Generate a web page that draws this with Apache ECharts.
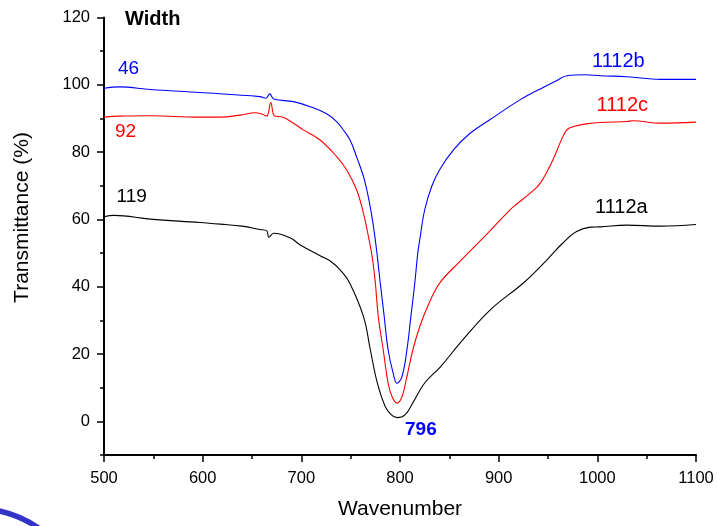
<!DOCTYPE html>
<html><head><meta charset="utf-8">
<script src="https://cdn.jsdelivr.net/npm/echarts@6/dist/echarts.min.js"></script>
<style>html,body{margin:0;padding:0;background:#fff}#c{width:717px;height:526px}</style>
</head><body><div id="c"></div>
<script>
// Tick labels
const xTickLabels = [500, 600, 700, 800, 900, 1000, 1100];
const yTickLabels = [0, 20, 40, 60, 80, 100, 120];

// Series 1112a (black)
const waveA = [500,510,547,597,618,640,658,665,667,672,689,699,719,729,740,749,763,770,777,785,791,797,805,813,825,841,861,891,925,949,965,979,993,1003,1030,1064,1100];
const transA = [60.8,61.2,60.1,59.1,58.6,58.0,57.0,56.6,54.7,55.9,54.5,52.4,49.2,47.7,44.8,41.1,31.1,21.2,11.4,4.4,2.0,1.1,1.9,5.5,11.4,16.2,23.3,33.0,41.1,48.0,53.0,56.4,57.7,57.8,58.3,58.0,58.5];

// Series 1112b (blue)
const waveB = [500,516,547,597,658,664,668,672,692,709,726,736,742,749,756,764,771,776,780,784,788,793,797,802,807,811,815,818,820,825,832,840,854,871,891,922,947,959,969,988,1003,1030,1064,1100];
const transB = [99.0,99.4,98.6,97.7,96.5,96.0,97.3,95.8,95.0,93.5,91.3,89.0,86.8,83.8,78.6,71.7,61.8,51.5,41.1,31.1,21.2,14.4,11.3,13.3,21.2,31.1,41.1,50.0,53.9,62.8,69.7,74.7,80.6,85.6,89.6,95.6,99.5,101.3,102.7,103.0,102.7,102.4,101.6,101.6];

// Series 1112c (red)
const waveC = [500,516,547,597,618,638,653,661,665,669,673,680,692,702,719,736,746,756,763,768,772,775,778,783,788,792,797,802,807,813,820,828,840,861,888,908,915,932,942,955,962,969,976,989,1003,1030,1036,1064,1100];
const transC = [90.4,90.7,90.8,90.4,90.4,91.0,91.7,91.2,90.7,94.7,90.7,90.5,88.6,86.6,83.6,78.6,74.7,68.8,61.8,54.9,48.5,41.1,31.1,21.2,11.3,7.3,5.4,7.3,13.3,21.2,28.1,34.1,41.0,47.6,55.6,61.8,63.8,67.8,70.7,77.7,82.6,86.6,87.6,88.4,88.8,89.1,89.3,88.6,88.9];

const seriesNames = ['1112a', '1112b', '1112c'];
const seriesColors = ['#000000', '#0000ff', '#ff0000'];

const pair = (xs, ys) => xs.map((x, i) => [x, ys[i]]);

const FONT = 'Liberation Sans, Arial, Helvetica, sans-serif';
const chart = echarts.init(document.getElementById('c'), null, {renderer: 'canvas'});

function txt(text, x, y, color, size, bold) {
  return {
    type: 'text', x: x, y: y, silent: true,
    style: {
      text: text, fill: color, fontSize: size, fontFamily: FONT,
      fontWeight: bold ? 'bold' : 'normal',
      align: 'left', textAlign: 'left', verticalAlign: 'middle', textVerticalAlign: 'middle'
    }
  };
}

const option = {
  animation: false,
  backgroundColor: '#ffffff',
  textStyle: {fontFamily: FONT},
  grid: {left: 104, right: 21, top: 17.5, bottom: 71, containLabel: false},
  xAxis: {
    type: 'value', min: 500, max: 1100, interval: 100,
    name: 'Wavenumber', nameLocation: 'middle', nameGap: 44,
    nameTextStyle: {fontSize: 21, color: '#000', fontFamily: FONT},
    axisLine: {show: true, onZero: false, lineStyle: {color: '#000', width: 2}},
    axisTick: {show: true, length: 7, lineStyle: {color: '#000', width: 1.5}},
    minorTick: {show: true, splitNumber: 2, length: 4, lineStyle: {color: '#000', width: 1.5}},
    splitLine: {show: false}, minorSplitLine: {show: false},
    axisLabel: {fontSize: 16.5, color: '#000', margin: 15, fontFamily: FONT,
      formatter: v => String(v)}
  },
  yAxis: [{
    type: 'value', min: -10, max: 120, interval: 10,
    axisLine: {show: true, onZero: false, lineStyle: {color: '#000', width: 2}},
    axisTick: {show: true, length: 7, lineStyle: {color: '#000', width: 1.5}, customValues: yTickLabels},
    splitLine: {show: false},
    axisLabel: {fontSize: 16.5, color: '#000', margin: 14, fontFamily: FONT, customValues: yTickLabels,
      formatter: v => String(v)}
  }, {
    type: 'value', min: -10, max: 120, interval: 10, position: 'left',
    axisLine: {show: false},
    axisTick: {show: true, length: 4, lineStyle: {color: '#000', width: 1.5}},
    splitLine: {show: false},
    axisLabel: {show: false}
  }],
  series: [
    {name: seriesNames[0], type: 'line', data: pair(waveA, transA)},
    {name: seriesNames[1], type: 'line', data: pair(waveB, transB)},
    {name: seriesNames[2], type: 'line', data: pair(waveC, transC)}
  ].map((s, i) => Object.assign(s, {
    showSymbol: false, symbol: 'none', smooth: 0.4,
    lineStyle: {color: seriesColors[i], width: 1.1}, itemStyle: {color: seriesColors[i]},
    yAxisIndex: 0, z: 3 + (2 - i)
  })),
  graphic: [
    txt('Width', 125, 19, '#000', 20, true),
    txt('46', 118, 68.5, '#0000ff', 19, false),
    txt('92', 115, 131.5, '#ff0000', 19, false),
    txt('119', 116.5, 197, '#000', 19, false),
    txt('1112b', 592, 61, '#0000ff', 20, false),
    txt('1112c', 596.5, 105.5, '#ff0000', 20, false),
    txt('1112a', 595, 207, '#000', 20, false),
    txt('796', 405, 430, '#0000ff', 19, true),
    {
      type: 'text', x: 22, y: 217.5, rotation: Math.PI / 2, silent: true,
      style: {text: 'Transmittance (%)', fill: '#000', fontSize: 21, fontFamily: FONT,
        align: 'center', textAlign: 'center', verticalAlign: 'middle', textVerticalAlign: 'middle'}
    },
    {
      type: 'bezierCurve', silent: true,
      shape: {x1: -3, y1: 510.5, cpx1: 20, cpy1: 515, x2: 40, y2: 529},
      style: {stroke: '#3434c8', lineWidth: 5.5, fill: null}
    }
  ]
};
chart.setOption(option);
</script>
</body></html>
